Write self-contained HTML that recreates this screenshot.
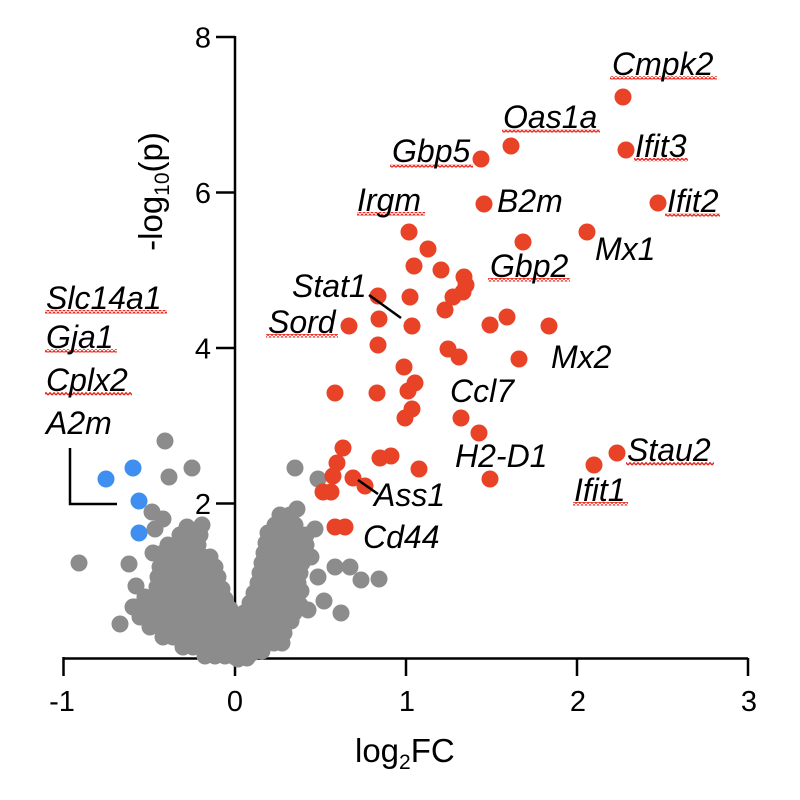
<!DOCTYPE html>
<html><head><meta charset="utf-8"><style>
html,body{margin:0;padding:0;background:#fff;}
svg{display:block;}
text{font-family:"Liberation Sans",Arial,sans-serif;fill:#000;}
.g{font-style:italic;font-size:32px;}
.t{font-size:29px;}
.ax{font-size:33px;}
</style></head><body>
<svg width="800" height="800" viewBox="0 0 800 800" xmlns="http://www.w3.org/2000/svg">
<defs>
<pattern id="sq" x="0" y="0" width="4" height="3.5" patternUnits="userSpaceOnUse">
<path d="M0 3 L2 0.7 L4 3" fill="none" stroke="#e8281e" stroke-width="1.4"/>
</pattern>
</defs>
<rect width="800" height="800" fill="#fff"/>
<!-- axes -->
<g stroke="#000" stroke-width="2.5" fill="none">
<line x1="235" y1="36" x2="235" y2="676"/>
<line x1="63.5" y1="658.5" x2="748" y2="658.5"/>
<line x1="216" y1="37" x2="235" y2="37"/>
<line x1="216" y1="192.5" x2="235" y2="192.5"/>
<line x1="216" y1="348" x2="235" y2="348"/>
<line x1="216" y1="503.5" x2="235" y2="503.5"/>
<line x1="63.5" y1="657" x2="63.5" y2="676"/>
<line x1="406" y1="658" x2="406" y2="676"/>
<line x1="577" y1="658" x2="577" y2="676"/>
<line x1="748" y1="658" x2="748" y2="676"/>
</g>
<!-- tick labels -->
<g class="t" text-anchor="end">
<text x="211" y="47.5">8</text>
<text x="211" y="203">6</text>
<text x="211" y="358.5">4</text>
<text x="211" y="514">2</text>
</g>
<g class="t" text-anchor="middle">
<text x="62" y="711">-1</text>
<text x="235" y="711">0</text>
<text x="407" y="711">1</text>
<text x="578" y="711">2</text>
<text x="749" y="711">3</text>
</g>
<text class="ax" x="355" y="762">log<tspan font-size="21" dy="7">2</tspan><tspan dy="-7">FC</tspan></text>
<text class="ax" transform="translate(162,191.5) rotate(-90)" text-anchor="middle">-log<tspan font-size="21" dy="7">10</tspan><tspan dy="-7">(p)</tspan></text>

<!-- gray points -->
<g fill="#8c8c8c">
<circle cx="165" cy="441" r="8.5"/><circle cx="169" cy="477" r="8.5"/><circle cx="192" cy="468" r="8.5"/>
<circle cx="79" cy="563" r="8.5"/><circle cx="129" cy="564" r="8.5"/><circle cx="120" cy="624" r="8.5"/>
<circle cx="136" cy="586" r="8.5"/><circle cx="135" cy="607" r="8.5"/><circle cx="152" cy="512" r="8.5"/>
<circle cx="163" cy="519" r="8.5"/><circle cx="155" cy="529" r="8.5"/>
<circle cx="153" cy="553" r="8.5"/><circle cx="163" cy="553" r="8.5"/>
<circle cx="168" cy="545" r="8.5"/><circle cx="178" cy="545" r="8.5"/><circle cx="188" cy="545" r="8.5"/><circle cx="198" cy="545" r="8.5"/>
<circle cx="180" cy="535" r="8.5"/><circle cx="190" cy="535" r="8.5"/><circle cx="200" cy="535" r="8.5"/>
<circle cx="187" cy="527" r="8.5"/><circle cx="202" cy="525" r="8.5"/>
<circle cx="173" cy="557" r="8.5"/><circle cx="183" cy="557" r="8.5"/><circle cx="193" cy="557" r="8.5"/><circle cx="203" cy="557" r="8.5"/><circle cx="210" cy="557" r="8.5"/>
<circle cx="160" cy="567" r="8.5"/><circle cx="170" cy="567" r="8.5"/><circle cx="180" cy="567" r="8.5"/><circle cx="190" cy="567" r="8.5"/><circle cx="200" cy="567" r="8.5"/><circle cx="210" cy="567" r="8.5"/><circle cx="215" cy="567" r="8.5"/>
<circle cx="158" cy="577" r="8.5"/><circle cx="168" cy="577" r="8.5"/><circle cx="178" cy="577" r="8.5"/><circle cx="188" cy="577" r="8.5"/><circle cx="198" cy="577" r="8.5"/><circle cx="208" cy="577" r="8.5"/><circle cx="218" cy="577" r="8.5"/>
<circle cx="157" cy="587" r="8.5"/><circle cx="167" cy="587" r="8.5"/><circle cx="177" cy="587" r="8.5"/><circle cx="187" cy="587" r="8.5"/><circle cx="197" cy="587" r="8.5"/><circle cx="207" cy="587" r="8.5"/><circle cx="217" cy="587" r="8.5"/><circle cx="222" cy="589" r="8.5"/>
<circle cx="145" cy="597" r="8.5"/><circle cx="155" cy="597" r="8.5"/><circle cx="165" cy="597" r="8.5"/><circle cx="175" cy="597" r="8.5"/><circle cx="185" cy="597" r="8.5"/><circle cx="195" cy="597" r="8.5"/><circle cx="205" cy="597" r="8.5"/><circle cx="215" cy="597" r="8.5"/><circle cx="225" cy="599" r="8.5"/>
<circle cx="133" cy="607" r="8.5"/><circle cx="143" cy="607" r="8.5"/><circle cx="153" cy="607" r="8.5"/><circle cx="163" cy="607" r="8.5"/><circle cx="173" cy="607" r="8.5"/><circle cx="183" cy="607" r="8.5"/><circle cx="193" cy="607" r="8.5"/><circle cx="203" cy="607" r="8.5"/><circle cx="213" cy="607" r="8.5"/><circle cx="223" cy="607" r="8.5"/><circle cx="230" cy="609" r="8.5"/>
<circle cx="140" cy="617" r="8.5"/><circle cx="150" cy="617" r="8.5"/><circle cx="160" cy="617" r="8.5"/><circle cx="170" cy="617" r="8.5"/><circle cx="180" cy="617" r="8.5"/><circle cx="190" cy="617" r="8.5"/><circle cx="200" cy="617" r="8.5"/><circle cx="210" cy="617" r="8.5"/><circle cx="220" cy="617" r="8.5"/><circle cx="230" cy="617" r="8.5"/>
<circle cx="150" cy="627" r="8.5"/><circle cx="160" cy="627" r="8.5"/><circle cx="170" cy="627" r="8.5"/><circle cx="180" cy="627" r="8.5"/><circle cx="190" cy="627" r="8.5"/><circle cx="200" cy="627" r="8.5"/><circle cx="210" cy="627" r="8.5"/><circle cx="220" cy="627" r="8.5"/><circle cx="230" cy="627" r="8.5"/><circle cx="237" cy="627" r="8.5"/>
<circle cx="163" cy="637" r="8.5"/><circle cx="173" cy="637" r="8.5"/><circle cx="183" cy="637" r="8.5"/><circle cx="193" cy="637" r="8.5"/><circle cx="203" cy="637" r="8.5"/><circle cx="213" cy="637" r="8.5"/><circle cx="223" cy="637" r="8.5"/><circle cx="233" cy="637" r="8.5"/><circle cx="240" cy="637" r="8.5"/>
<circle cx="183" cy="647" r="8.5"/><circle cx="193" cy="647" r="8.5"/><circle cx="203" cy="647" r="8.5"/><circle cx="213" cy="647" r="8.5"/><circle cx="223" cy="647" r="8.5"/><circle cx="233" cy="647" r="8.5"/><circle cx="240" cy="647" r="8.5"/>
<circle cx="205" cy="656" r="8.5"/><circle cx="215" cy="656" r="8.5"/><circle cx="225" cy="656" r="8.5"/><circle cx="235" cy="657" r="8.5"/><circle cx="243" cy="656" r="8.5"/>
<!-- right arm -->
<circle cx="295" cy="468" r="8.5"/><circle cx="318" cy="479" r="8.5"/><circle cx="297" cy="509" r="8.5"/><circle cx="315" cy="529" r="8.5"/>
<circle cx="280" cy="515" r="8.5"/><circle cx="290" cy="515" r="8.5"/>
<circle cx="275" cy="525" r="8.5"/><circle cx="285" cy="525" r="8.5"/><circle cx="295" cy="525" r="8.5"/>
<circle cx="268" cy="533" r="8.5"/><circle cx="278" cy="533" r="8.5"/><circle cx="288" cy="533" r="8.5"/><circle cx="298" cy="533" r="8.5"/><circle cx="306" cy="535" r="8.5"/>
<circle cx="266" cy="543" r="8.5"/><circle cx="276" cy="543" r="8.5"/><circle cx="286" cy="543" r="8.5"/><circle cx="296" cy="543" r="8.5"/><circle cx="306" cy="545" r="8.5"/>
<circle cx="264" cy="553" r="8.5"/><circle cx="274" cy="553" r="8.5"/><circle cx="284" cy="553" r="8.5"/><circle cx="294" cy="553" r="8.5"/><circle cx="304" cy="553" r="8.5"/><circle cx="311" cy="557" r="8.5"/>
<circle cx="262" cy="563" r="8.5"/><circle cx="272" cy="563" r="8.5"/><circle cx="282" cy="563" r="8.5"/><circle cx="292" cy="563" r="8.5"/><circle cx="302" cy="563" r="8.5"/>
<circle cx="260" cy="573" r="8.5"/><circle cx="270" cy="573" r="8.5"/><circle cx="280" cy="573" r="8.5"/><circle cx="290" cy="573" r="8.5"/><circle cx="300" cy="573" r="8.5"/><circle cx="318" cy="577" r="8.5"/>
<circle cx="258" cy="583" r="8.5"/><circle cx="268" cy="583" r="8.5"/><circle cx="278" cy="583" r="8.5"/><circle cx="288" cy="583" r="8.5"/><circle cx="298" cy="583" r="8.5"/>
<circle cx="254" cy="593" r="8.5"/><circle cx="264" cy="593" r="8.5"/><circle cx="274" cy="593" r="8.5"/><circle cx="284" cy="593" r="8.5"/><circle cx="294" cy="593" r="8.5"/><circle cx="301" cy="591" r="8.5"/>
<circle cx="250" cy="603" r="8.5"/><circle cx="260" cy="603" r="8.5"/><circle cx="270" cy="603" r="8.5"/><circle cx="280" cy="603" r="8.5"/><circle cx="290" cy="603" r="8.5"/><circle cx="300" cy="605" r="8.5"/><circle cx="324" cy="601" r="8.5"/>
<circle cx="244" cy="613" r="8.5"/><circle cx="254" cy="613" r="8.5"/><circle cx="264" cy="613" r="8.5"/><circle cx="274" cy="613" r="8.5"/><circle cx="284" cy="613" r="8.5"/><circle cx="294" cy="613" r="8.5"/><circle cx="308" cy="610" r="8.5"/>
<circle cx="238" cy="623" r="8.5"/><circle cx="248" cy="623" r="8.5"/><circle cx="258" cy="623" r="8.5"/><circle cx="268" cy="623" r="8.5"/><circle cx="278" cy="623" r="8.5"/><circle cx="291" cy="621" r="8.5"/>
<circle cx="236" cy="633" r="8.5"/><circle cx="246" cy="633" r="8.5"/><circle cx="256" cy="633" r="8.5"/><circle cx="266" cy="633" r="8.5"/><circle cx="276" cy="633" r="8.5"/><circle cx="284" cy="633" r="8.5"/>
<circle cx="234" cy="643" r="8.5"/><circle cx="244" cy="643" r="8.5"/><circle cx="254" cy="643" r="8.5"/><circle cx="264" cy="643" r="8.5"/><circle cx="274" cy="643" r="8.5"/><circle cx="282" cy="643" r="8.5"/>
<circle cx="232" cy="653" r="8.5"/><circle cx="242" cy="653" r="8.5"/><circle cx="252" cy="653" r="8.5"/><circle cx="262" cy="651" r="8.5"/>
<circle cx="238" cy="659" r="8.5"/><circle cx="247" cy="658" r="8.5"/>
<circle cx="335" cy="567" r="8.5"/><circle cx="350" cy="567" r="8.5"/><circle cx="361" cy="580" r="8.5"/><circle cx="379" cy="579" r="8.5"/><circle cx="341" cy="613" r="8.5"/>
</g>
<!-- blue points -->
<g fill="#3f8ff0">
<circle cx="106" cy="479" r="8.5"/><circle cx="133" cy="468" r="8.5"/><circle cx="139" cy="501" r="8.5"/><circle cx="139" cy="533" r="8.5"/>
</g>
<!-- red points -->
<g fill="#e84227">
<circle cx="623" cy="97" r="8.5"/><circle cx="511" cy="146" r="8.5"/><circle cx="481" cy="159" r="8.5"/><circle cx="626" cy="150" r="8.5"/>
<circle cx="484" cy="204" r="8.5"/><circle cx="658" cy="203" r="8.5"/><circle cx="587" cy="232" r="8.5"/><circle cx="523" cy="242" r="8.5"/>
<circle cx="409" cy="232" r="8.5"/><circle cx="428" cy="249" r="8.5"/><circle cx="414" cy="266" r="8.5"/><circle cx="441" cy="270" r="8.5"/>
<circle cx="464" cy="277" r="8.5"/><circle cx="466" cy="285" r="8.5"/><circle cx="463" cy="292" r="8.5"/><circle cx="453" cy="297" r="8.5"/>
<circle cx="445" cy="310" r="8.5"/><circle cx="378" cy="296" r="8.5"/><circle cx="410" cy="297" r="8.5"/><circle cx="349" cy="326" r="8.5"/>
<circle cx="379" cy="319" r="8.5"/><circle cx="412" cy="326" r="8.5"/><circle cx="378" cy="345" r="8.5"/><circle cx="404" cy="367" r="8.5"/>
<circle cx="415" cy="383" r="8.5"/><circle cx="408" cy="391" r="8.5"/><circle cx="335" cy="393" r="8.5"/><circle cx="377" cy="393" r="8.5"/>
<circle cx="412" cy="409" r="8.5"/><circle cx="405" cy="418" r="8.5"/><circle cx="490" cy="325" r="8.5"/><circle cx="507" cy="317" r="8.5"/>
<circle cx="549" cy="326" r="8.5"/><circle cx="448" cy="349" r="8.5"/><circle cx="459" cy="357" r="8.5"/><circle cx="519" cy="359" r="8.5"/>
<circle cx="461" cy="418" r="8.5"/><circle cx="479" cy="433" r="8.5"/><circle cx="490" cy="479" r="8.5"/><circle cx="419" cy="469" r="8.5"/>
<circle cx="343" cy="448" r="8.5"/><circle cx="337" cy="463" r="8.5"/><circle cx="333" cy="476" r="8.5"/><circle cx="323" cy="492" r="8.5"/>
<circle cx="331" cy="492" r="8.5"/><circle cx="353" cy="478" r="8.5"/><circle cx="365" cy="486" r="8.5"/><circle cx="335" cy="527" r="8.5"/>
<circle cx="345" cy="527" r="8.5"/><circle cx="380" cy="458" r="8.5"/><circle cx="391" cy="456" r="8.5"/><circle cx="617" cy="453" r="8.5"/>
<circle cx="594" cy="465" r="8.5"/>
</g>
<!-- connector lines -->
<g stroke="#000" stroke-width="2.5" fill="none">
<line x1="369" y1="295" x2="401" y2="318"/>
<line x1="358" y1="480" x2="378" y2="494"/>
<polyline points="70,448 70,504 117,504"/>
</g>
<!-- squiggles -->
<g fill="url(#sq)">
<rect x="610" y="76" width="107" height="3.5"/>
<rect x="502" y="129" width="98" height="3.5"/>
<rect x="390" y="164" width="83" height="3.5"/>
<rect x="634" y="158" width="54" height="3.5"/>
<rect x="665" y="213" width="55" height="3.5"/>
<rect x="488" y="278" width="82" height="3.5"/>
<rect x="357" y="212" width="68" height="3.5"/>
<rect x="266" y="334" width="72" height="3.5"/>
<rect x="626" y="462" width="88" height="3.5"/>
<rect x="573" y="502" width="55" height="3.5"/>
<rect x="45" y="310" width="122" height="3.5"/>
<rect x="45" y="349" width="72" height="3.5"/>
<rect x="45" y="392" width="87" height="3.5"/>
</g>
<!-- gene labels -->
<g class="g">
<text x="612" y="75">Cmpk2</text>
<text x="503" y="128">Oas1a</text>
<text x="392" y="162">Gbp5</text>
<text x="635" y="157">Ifit3</text>
<text x="497" y="212">B2m</text>
<text x="667" y="212">Ifit2</text>
<text x="595" y="260">Mx1</text>
<text x="490" y="277">Gbp2</text>
<text x="357" y="211">Irgm</text>
<text x="292" y="297">Stat1</text>
<text x="268" y="333">Sord</text>
<text x="450" y="402">Ccl7</text>
<text x="455" y="467">H2-D1</text>
<text x="551" y="368">Mx2</text>
<text x="627" y="461">Stau2</text>
<text x="574" y="501">Ifit1</text>
<text x="374" y="506">Ass1</text>
<text x="363" y="548">Cd44</text>
<text x="46" y="309">Slc14a1</text>
<text x="46" y="348">Gja1</text>
<text x="46" y="391">Cplx2</text>
<text x="46" y="434">A2m</text>
</g>
</svg>
</body></html>
